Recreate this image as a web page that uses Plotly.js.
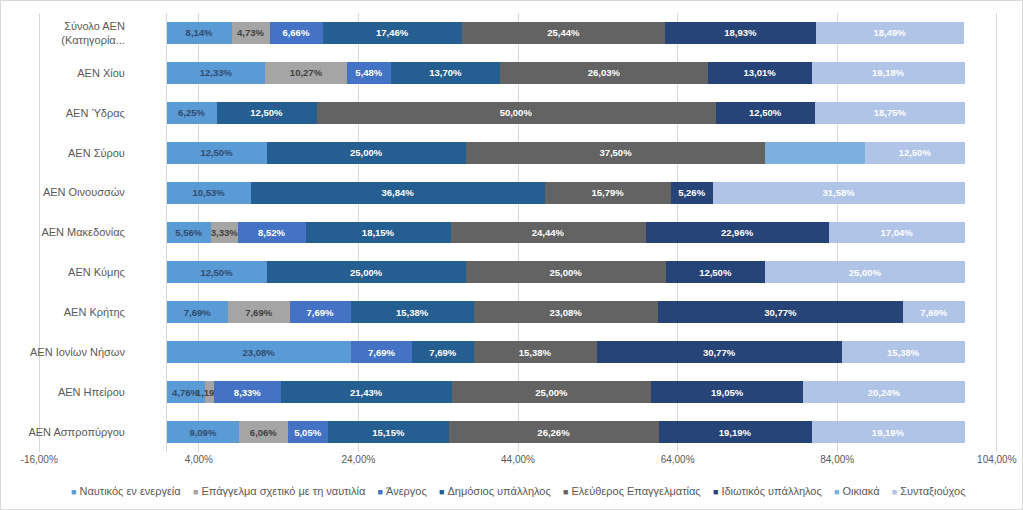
<!DOCTYPE html>
<html>
<head>
<meta charset="utf-8">
<script src="https://cdn.plot.ly/plotly-3.0.1.min.js"></script>
<style>
html,body{margin:0;padding:0;background:#fff;}
#wrap{position:relative;width:1023px;height:510px;}
#chart{width:1023px;height:510px;}
#frame{position:absolute;left:0;top:0;width:1021px;height:508px;border:1px solid #d9d9d9;pointer-events:none;}
</style>
</head>
<body>
<div id="wrap"><div id="chart"></div><div id="frame"></div></div>
<script>
// Categories (top to bottom)
const categories = ["Σύνολο ΑΕΝ<br>(Κατηγορία...", "ΑΕΝ Χίου", "ΑΕΝ Ύδρας", "ΑΕΝ Σύρου", "ΑΕΝ Οινουσσών", "ΑΕΝ Μακεδονίας", "ΑΕΝ Κύμης", "ΑΕΝ Κρήτης", "ΑΕΝ Ιονίων Νήσων", "ΑΕΝ Ηπείρου", "ΑΕΝ Ασπροπύργου"];

const seriesNames = ["Ναυτικός εν ενεργεία", "Επάγγελμα σχετικό με τη ναυτιλία", "Άνεργος", "Δημόσιος υπάλληλος", "Ελεύθερος Επαγγελματίας", "Ιδιωτικός υπάλληλος", "Οικιακά", "Συνταξιούχος"];

const nautikos     = [8.14, 12.33, 6.25, 12.50, 10.53, 5.56, 12.50, 7.69, 23.08, 4.76, 9.09];
const epaggelma    = [4.73, 10.27, null, null, null, 3.33, null, 7.69, null, 1.19, 6.06];
const anergos      = [6.66, 5.48, null, null, null, 8.52, null, 7.69, 7.69, 8.33, 5.05];
const dimosios     = [17.46, 13.70, 12.50, 25.00, 36.84, 18.15, 25.00, 15.38, 7.69, 21.43, 15.15];
const eleftheros   = [25.44, 26.03, 50.00, 37.50, 15.79, 24.44, 25.00, 23.08, 15.38, 25.00, 26.26];
const idiotikos    = [18.93, 13.01, 12.50, null, 5.26, 22.96, 12.50, 30.77, 30.77, 19.05, 19.19];
const oikiaka      = [null, null, null, 12.50, null, null, null, null, null, null, null];
const syntaxiouxos = [18.49, 19.18, 18.75, 12.50, 31.58, 17.04, 25.00, 7.69, 15.38, 20.24, 19.19];

const tickValues = [-16, 4, 24, 44, 64, 84, 104];
const tickLabels = ["-16,00%", "4,00%", "24,00%", "44,00%", "64,00%", "84,00%", "104,00%"];

const seriesValues = [nautikos, epaggelma, anergos, dimosios, eleftheros, idiotikos, oikiaka, syntaxiouxos];
const colors = ["#5B9BD5", "#A5A5A5", "#4472C4", "#255E91", "#636363", "#264478", "#7CAFDD", "#AFC4E7"];
const labelColors = ["#2F4B6E", "#404040", "#ffffff", "#ffffff", "#ffffff", "#ffffff", "#ffffff", "#ffffff"];
const showLabels = [true, true, true, true, true, true, false, true];

function fmt(v){ return v == null ? "" : v.toFixed(2).replace(".", ",") + "%"; }

const traces = seriesValues.map((vals, i) => ({
  type: "bar",
  orientation: "h",
  name: seriesNames[i],
  y: categories,
  x: vals,
  marker: {color: colors[i]},
  text: showLabels[i] ? vals.map(fmt) : vals.map(() => ""),
  textposition: "inside",
  insidetextanchor: "middle",
  textangle: 0,
  constraintext: "none",
  textfont: {family: "Liberation Sans, Arial, sans-serif", size: 9.5, color: labelColors[i], weight: "bold"},
  hoverinfo: "name+x",
  showlegend: false
}));

// Legend line built from series names and colours
const NB = "\u00A0";
const legendText = seriesNames.map((n, i) =>
  `<span style="color:${colors[i]};font-size:9px">■</span>${NB}${n}`
).join(NB + NB + NB + NB);

const layout = {
  width: 1023,
  height: 510,
  margin: {l: 38, r: 25, t: 13, b: 58},
  paper_bgcolor: "#ffffff",
  plot_bgcolor: "#ffffff",
  barmode: "stack",
  bargap: 0.45,
  separators: ",.",
  font: {family: "Liberation Sans, Arial, sans-serif", color: "#595959", size: 11},
  xaxis: {
    range: [-16.15, 104.15],
    tickmode: "array",
    tickvals: tickValues,
    ticktext: tickLabels,
    showgrid: true,
    gridcolor: "#d9d9d9",
    gridwidth: 1,
    zeroline: true,
    zerolinecolor: "#d9d9d9",
    zerolinewidth: 1,
    showline: false,
    ticks: "",
    tickfont: {size: 10, color: "#595959"},
    fixedrange: true
  },
  yaxis: {
    type: "category",
    categoryorder: "array",
    categoryarray: categories,
    autorange: "reversed",
    anchor: "free",
    position: 16.15 / 120.3,
    showline: false,
    showgrid: false,
    zeroline: false,
    ticks: "",
    ticklabelstandoff: 42,
    tickfont: {size: 11, color: "#595959"},
    fixedrange: true
  },
  showlegend: false,
  annotations: [{
    xref: "paper", yref: "paper",
    x: 0.5, y: -0.089,
    xanchor: "center", yanchor: "middle",
    showarrow: false,
    text: legendText,
    font: {size: 11, color: "#595959"}
  }]
};

Plotly.newPlot("chart", traces, layout, {displayModeBar: false, staticPlot: true});
</script>
</body>
</html>
